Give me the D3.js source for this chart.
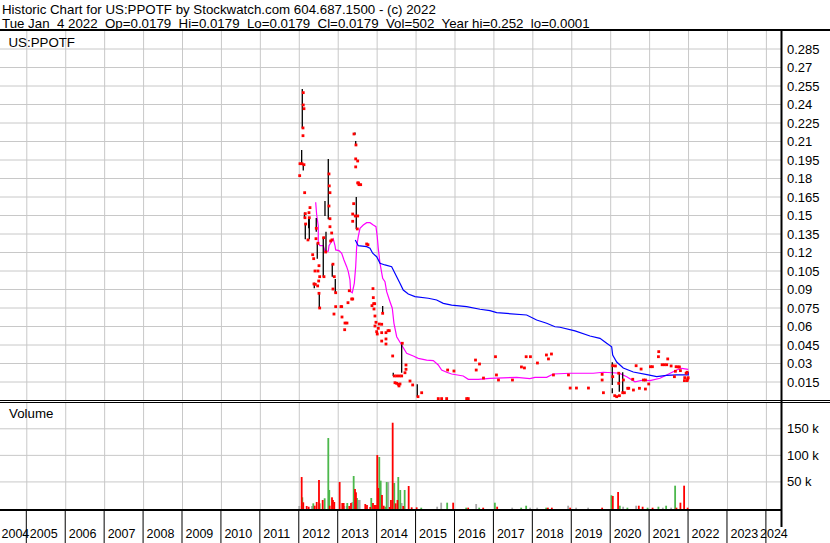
<!DOCTYPE html>
<html><head><meta charset="utf-8">
<script src="https://cdn.jsdelivr.net/npm/d3@7"></script>
<style>
body{margin:0;background:#fff}
svg{display:block}
text{font-family:"Liberation Sans",Arial,sans-serif;fill:#000}
</style>
</head><body>
<svg id="c" width="830" height="543"></svg>
<script>
const headerLines = [
  "Historic Chart for US:PPOTF by Stockwatch.com 604.687.1500 - (c) 2022",
  "Tue Jan  4 2022  Op=0.0179  Hi=0.0179  Lo=0.0179  Cl=0.0179  Vol=502  Year hi=0.252  lo=0.0001"
];
const symbolLabel = "US:PPOTF";
const volumeLabel = "Volume";
const yearTicks = [2004,2005,2006,2007,2008,2009,2010,2011,2012,2013,2014,2015,2016,2017,2018,2019,2020,2021,2022,2023,2024];
const yearLabels = ["2004","2005","2006","2007","2008","2009","2010","2011","2012","2013","2014","2015","2016","2017","2018","2019","2020","2021","2022","2023","2024"];
const priceTicks = [0.015,0.03,0.045,0.06,0.075,0.09,0.105,0.12,0.135,0.15,0.165,0.18,0.195,0.21,0.225,0.24,0.255,0.27,0.285];
const priceTickLabels = ["0.015","0.03","0.045","0.06","0.075","0.09","0.105","0.12","0.135","0.15","0.165","0.18","0.195","0.21","0.225","0.24","0.255","0.27","0.285"];
const volumeTicks = [50000,100000,150000];
const volumeTickLabels = ["50 k","100 k","150 k"];

// high-low ranges [year, low, high]
const rangeBars = [
  [2012.090,0.2203,0.2522],[2012.074,0.1914,0.2028],[2012.115,0.1860,0.1914],[2012.146,0.1476,0.1519],
  [2012.167,0.1303,0.1433],[2012.254,0.1392,0.1478],[2012.270,0.1303,0.1478],[2012.449,0.1365,0.1476],
  [2012.475,0.1146,0.1271],[2012.629,0.1000,0.1322],[2012.398,0.0906,0.0951],[2012.527,0.0746,0.0870],
  [2012.758,0.1466,0.1955],[2012.673,0.1492,0.1614],[2012.699,0.1195,0.1365],[2012.860,0.1000,0.1103],
  [2012.938,0.0870,0.0981],[2013.444,0.2150,0.2168],[2013.462,0.2066,0.2100],[2013.477,0.1387,0.1646],
  [2014.155,0.0703,0.0762],[2014.643,0.0221,0.0460],[2014.427,0.0195,0.0221],[2015.044,0.0027,0.0127],
  [2020.054,0.0122,0.0306],[2020.054,0.0054,0.0095],[2020.234,0.0067,0.0225],[2020.321,0.0054,0.0225]
];

// closing prices [year, price]
const closes = [
  [2012.115,0.2492],[2012.115,0.2392],[2012.133,0.2362],[2012.108,0.2206],[2012.108,0.2143],
  [2012.031,0.1916],[2012.082,0.1916],[2012.133,0.1908],[2012.023,0.1819],[2012.151,0.1681],
  [2012.167,0.1511],[2012.159,0.1478],[2012.177,0.1427],[2012.288,0.1560],[2012.262,0.1519],
  [2012.270,0.1478],[2012.236,0.1298],[2012.442,0.1308],[2012.449,0.1392],[2012.357,0.1178],
  [2012.383,0.1146],[2012.493,0.1271],[2012.416,0.1046],[2012.493,0.1046],[2012.640,0.1316],
  [2012.647,0.1000],[2012.519,0.1089],[2012.537,0.1000],[2012.511,0.0965],[2012.390,0.0941],
  [2012.424,0.0938],[2012.485,0.0925],[2012.537,0.0746],[2012.519,0.0865],[2012.776,0.1833],
  [2012.783,0.1736],[2012.801,0.1681],[2012.776,0.1573],[2012.801,0.1470],[2012.801,0.1405],
  [2012.845,0.1354],[2012.819,0.1289],[2012.853,0.1298],[2012.691,0.1200],[2012.878,0.1101],
  [2012.912,0.1000],[2012.878,0.0900],[2012.948,0.0870],[2012.948,0.0757],[2012.904,0.0697],
  [2013.084,0.0757],[2013.102,0.0757],[2013.110,0.0673],[2013.187,0.0624],[2013.238,0.0624],
  [2013.179,0.0570],
  [2013.418,0.2157],[2013.469,0.2068],[2013.462,0.1955],[2013.513,0.1938],[2013.462,0.1890],
  [2013.513,0.1760],[2013.534,0.1760],[2013.546,0.1746],[2013.590,0.1746],[2013.410,0.1592],
  [2013.385,0.1508],[2013.451,0.1492],[2013.513,0.1492],[2013.385,0.1449],[2013.503,0.1387],
  [2013.297,0.0886],[2013.359,0.0819],[2013.385,0.0819],[2013.264,0.0789],[2013.744,0.1265],
  [2013.777,0.1259],
  [2013.906,0.0903],[2013.914,0.0830],[2013.924,0.0781],[2013.950,0.0781],[2013.880,0.0765],
  [2013.932,0.0738],[2013.957,0.0681],[2013.983,0.0630],[2014.068,0.0616],[2014.130,0.0614],
  [2014.042,0.0581],[2013.957,0.0600],[2014.001,0.0554],[2014.016,0.0535],[2014.130,0.0546],
  [2014.240,0.0546],[2014.292,0.0562],[2014.325,0.0562],[2014.130,0.0478],[2014.240,0.0495],
  [2014.240,0.0454],[2014.155,0.0703],
  [2014.659,0.0460],[2014.412,0.0357],[2014.453,0.0195],[2014.515,0.0195],[2014.582,0.0195],
  [2014.643,0.0195],[2014.471,0.0140],[2014.515,0.0135],[2014.556,0.0127],[2014.600,0.0130],
  [2014.574,0.0114],[2014.728,0.0221],[2014.754,0.0284],[2014.754,0.0249],[2014.857,0.0154],
  [2014.926,0.0122],[2015.062,0.0027],[2015.157,0.0059],
  [2015.583,0.0001],[2015.670,0.0001],[2015.799,0.0001],[2016.313,0.0001],[2016.354,0.0001],
  [2015.824,0.0243],[2015.986,0.0235],
  [2016.540,0.0324],[2016.643,0.0292],[2016.558,0.0243],[2016.745,0.0178],[2017.053,0.0351],
  [2017.078,0.0203],[2017.130,0.0162],
  [2017.489,0.0162],[2017.720,0.0268],[2017.797,0.0260],[2017.841,0.0351],[2017.951,0.0351],
  [2018.131,0.0300],[2018.362,0.0365],[2018.414,0.0333],[2018.491,0.0373],[2018.542,0.0203],
  [2018.928,0.0203],[2018.972,0.0097],[2019.133,0.0097],[2019.441,0.0097],
  [2019.793,0.0208],[2019.793,0.0162],[2019.826,0.0059],[2020.065,0.0278],[2020.134,0.0276],
  [2020.065,0.0189],[2020.116,0.0035],[2020.167,0.0027],[2020.237,0.0035],[2020.219,0.0217],
  [2020.219,0.0135],[2020.322,0.0059],[2020.365,0.0059],[2020.340,0.0162],[2020.450,0.0095],
  [2020.476,0.0095],
  [2020.579,0.0168],[2020.597,0.0081],[2020.666,0.0278],[2020.794,0.0251],[2020.751,0.0095],
  [2020.854,0.0162],[2020.905,0.0162],[2020.905,0.0089],[2020.990,0.0130],[2021.033,0.0270],
  [2021.085,0.0270],[2021.247,0.0392],[2021.239,0.0351],[2021.334,0.0286],[2021.393,0.0286],
  [2021.452,0.0286],[2021.478,0.0333],[2021.565,0.0276],[2021.650,0.0189],[2021.675,0.0233],
  [2021.693,0.0270],[2021.745,0.0268],[2021.778,0.0268],[2021.804,0.0238],[2021.951,0.0217],
  [2021.915,0.0181],[2021.907,0.0157],[2021.992,0.0170],[2021.976,0.0157],[2021.976,0.0225],
  [2022.002,0.0181]
];

// short moving average (magenta)
const maShort = [
  [2012.434,0.1603],[2012.460,0.1500],[2012.501,0.1411],[2012.501,0.1271],[2012.544,0.1251],
  [2012.629,0.1251],[2012.673,0.1206],[2012.758,0.1206],[2012.776,0.1251],[2012.835,0.1281],
  [2012.886,0.1306],[2012.930,0.1251],[2012.948,0.1217],[2013.033,0.1211],[2013.102,0.1190],
  [2013.161,0.1135],[2013.230,0.1081],[2013.272,0.1041],[2013.315,0.0973],[2013.333,0.0878],
  [2013.374,0.0870],[2013.426,0.0946],[2013.462,0.1081],[2013.487,0.1243],[2013.528,0.1324],
  [2013.572,0.1392],[2013.657,0.1419],[2013.744,0.1438],[2013.829,0.1438],[2013.914,0.1419],
  [2013.983,0.1405],[2014.016,0.1324],[2014.042,0.1230],[2014.086,0.1109],[2014.155,0.0987],
  [2014.214,0.0959],[2014.258,0.0878],[2014.343,0.0797],[2014.402,0.0744],[2014.445,0.0622],
  [2014.515,0.0513],[2014.643,0.0446],[2014.771,0.0379],[2014.941,0.0357],[2015.069,0.0338],
  [2015.285,0.0324],[2015.455,0.0319],[2015.583,0.0284],[2015.670,0.0243],[2015.799,0.0225],
  [2015.927,0.0211],[2016.225,0.0195],[2016.354,0.0168],[2016.610,0.0168],[2016.911,0.0176],
  [2017.597,0.0184],[2017.938,0.0173],[2018.067,0.0184],[2018.367,0.0184],[2018.537,0.0211],
  [2018.966,0.0217],[2019.565,0.0217],[2019.822,0.0225],[2020.065,0.0221],[2020.237,0.0217],
  [2020.424,0.0189],[2020.637,0.0148],[2020.850,0.0162],[2021.022,0.0157],[2021.279,0.0176],
  [2021.451,0.0203],[2021.708,0.0243],[2021.836,0.0257],[2022.005,0.0249]
];

// long moving average (blue)
const maLong = [
  [2013.451,0.1298],[2013.528,0.1251],[2013.744,0.1243],[2013.829,0.1230],[2013.898,0.1190],
  [2014.001,0.1162],[2014.086,0.1109],[2014.214,0.1095],[2014.386,0.1081],[2014.515,0.1000],
  [2014.599,0.0946],[2014.684,0.0892],[2014.813,0.0860],[2014.985,0.0838],[2015.327,0.0825],
  [2015.542,0.0811],[2015.712,0.0784],[2015.927,0.0770],[2016.313,0.0757],[2016.655,0.0736],
  [2016.911,0.0724],[2017.084,0.0708],[2017.854,0.0689],[2018.111,0.0649],[2018.368,0.0622],
  [2018.582,0.0594],[2018.710,0.0590],[2019.096,0.0560],[2019.481,0.0519],[2019.738,0.0500],
  [2019.910,0.0460],[2020.038,0.0432],[2020.064,0.0365],[2020.167,0.0308],[2020.336,0.0260],
  [2020.593,0.0227],[2020.978,0.0203],[2021.194,0.0189],[2021.451,0.0199],[2021.708,0.0203],
  [2022.006,0.0203],[2022.006,0.0227]
];

// volume [year, shares]
const volUp = [
  [2012.090,20100],[2012.373,8800],[2012.537,8800],[2012.665,18300],[2012.758,131700],[2012.783,33900],
  [2013.246,9400],[2013.410,60200],[2013.495,18800],[2013.862,18800],[2014.068,96000],[2014.104,51400],
  [2014.222,2400],[2014.258,48900],[2014.453,47000],[2014.556,58300],[2014.607,33900],[2014.720,33900],
  [2015.146,600],[2015.812,10000],[2016.300,600],[2016.634,600],[2017.037,10000],[2017.713,600],
  [2017.841,4300],[2018.355,600],[2020.031,23900],[2020.247,4300],[2020.442,600],[2020.961,600],
  [2021.239,2400],[2021.437,4300],[2021.668,42000]
];
const volDown = [
  [2012.074,58300],[2012.115,10700],[2012.203,3800],[2012.254,2400],[2012.409,4300],[2012.460,11300],
  [2012.519,52700],[2012.614,15100],[2012.794,4300],[2012.853,20100],[2012.878,15100],[2012.912,11300],
  [2013.050,48900],[2013.117,9400],[2013.153,9400],[2013.297,3800],[2013.341,9400],[2013.444,35800],
  [2013.469,29500],[2013.708,7500],[2013.752,5600],[2013.836,1900],[2013.906,9400],[2013.950,5600],
  [2013.983,5600],[2014.016,99700],[2014.042,37600],[2014.137,24500],[2014.181,4300],[2014.335,1900],
  [2014.368,15100],[2014.412,160500],[2014.489,8800],[2014.536,15100],[2014.684,3800],[2014.823,41400],
  [2014.900,1300],[2015.028,1300],[2015.966,10000],[2016.351,600],[2016.737,600],[2017.096,2400],
  [2018.399,600],[2018.501,600],[2018.971,600],[2019.793,600],[2020.067,22600],[2020.203,30100],
  [2020.735,4300],[2020.833,2400],[2021.089,600],[2021.702,600],[2021.804,10000],[2021.899,42000],
  [2021.989,600]
];
const volFlat = [
  [2012.013,3800],[2012.339,3800],[2013.161,3800],[2013.230,3800],[2013.374,11300],[2013.528,15100],
  [2013.564,15100],[2014.299,48900],[2014.643,9400],[2015.555,2400],[2015.658,10000],[2016.557,7500],
  [2017.482,600],[2017.944,600],[2018.124,600],[2018.920,4300],[2019.125,600],[2019.433,600],
  [2020.332,2400],[2020.666,4300],[2021.352,600],[2021.565,600]
];

// ---------- drawing ----------
const W = 830, H = 543;
const frameR = 781;
const pTop = 31, pBot = 400;
const vTop = 402, vBot = 509.5;
const aBot = 543;

const svg = d3.select("#c");
svg.append("rect").attr("width", W).attr("height", H).attr("fill", "#fff");

const x = d3.scaleLinear().domain([2005, 2024]).range([26.3, 765.9]);
const yP = d3.scaleLinear().domain([0, 0.285]).range([400, 48.5]);
const yV = d3.scaleLinear().domain([0, 150000]).range([508, 428.3]);

// header
svg.selectAll("text.hdr").data(headerLines).join("text")
  .attr("class", "hdr").attr("x", 2).attr("y", (d, i) => 13.5 + i * 14.5)
  .style("white-space", "pre").style("font-size", "13.3px").text(d => d);

// price panel grid
const gPx = svg.append("g").attr("transform", `translate(0,${pBot})`)
  .call(d3.axisBottom(x).tickValues(yearTicks.filter(d => d >= 2005)).tickSize(-(pBot - pTop)).tickFormat(""));
gPx.select(".domain").remove();
gPx.selectAll("line").attr("stroke", "#c8c8c8");

const gPy = svg.append("g").attr("transform", `translate(${frameR},0)`)
  .call(d3.axisRight(yP).tickValues(priceTicks).tickSize(-frameR).tickPadding(6)
    .tickFormat((d, i) => priceTickLabels[i]));
gPy.select(".domain").remove();
gPy.selectAll("line").attr("stroke", "#c8c8c8");
gPy.attr("font-family", null).attr("font-size", null);
gPy.selectAll("text").style("font-size", "13px").attr("dy", "0.35em");

// volume panel grid
const gVx = svg.append("g").attr("transform", `translate(0,${vBot})`)
  .call(d3.axisBottom(x).tickValues(yearTicks.filter(d => d >= 2005)).tickSize(-(vBot - vTop)).tickFormat(""));
gVx.select(".domain").remove();
gVx.selectAll("line").attr("stroke", "#c8c8c8");

const gVy = svg.append("g").attr("transform", `translate(${frameR},0)`)
  .call(d3.axisRight(yV).tickValues(volumeTicks).tickSize(-frameR).tickPadding(6)
    .tickFormat((d, i) => volumeTickLabels[i]));
gVy.select(".domain").remove();
gVy.selectAll("line").attr("stroke", "#c8c8c8");
gVy.attr("font-family", null).attr("font-size", null);
gVy.selectAll("text").style("font-size", "13px").attr("dy", "0.35em");

// moving averages
const line = d3.line().x(d => x(d[0])).y(d => yP(d[1]));
svg.append("path").datum(maShort).attr("d", line).attr("fill", "none").attr("stroke", "#ff00ff").attr("stroke-width", 1.2);
svg.append("path").datum(maLong).attr("d", line).attr("fill", "none").attr("stroke", "#0000ff").attr("stroke-width", 1.2);

// high-low bars
svg.append("g").selectAll("line").data(rangeBars).join("line")
  .attr("x1", d => x(d[0])).attr("x2", d => x(d[0]))
  .attr("y1", d => yP(d[2])).attr("y2", d => yP(d[1]))
  .attr("stroke", "#000").attr("stroke-width", 1.3);

// closes
const ds = 2.8;
svg.append("g").selectAll("rect").data(closes).join("rect")
  .attr("x", d => x(d[0]) - ds / 2).attr("y", d => Math.min(yP(d[1]) - ds / 2, pBot - ds))
  .attr("width", ds).attr("height", ds).attr("fill", "#ff0000");

// volume bars
const bw = 1.8;
function volBars(data, color) {
  svg.append("g").selectAll("rect").data(data).join("rect")
    .attr("x", d => x(d[0]) - bw / 2).attr("y", d => yV(d[1]))
    .attr("width", bw).attr("height", d => vBot - yV(d[1]))
    .attr("fill", color);
}
volBars(volFlat, "#a8a8a8");
volBars(volUp, "#4cb84c");
volBars(volDown, "#ff0000");

// labels
svg.append("text").attr("x", 8.5).attr("y", 46.5).style("font-size", "13.3px").text(symbolLabel);
svg.append("text").attr("x", 9).attr("y", 418).style("font-size", "13.3px").text(volumeLabel);

// x axis panel
const gA = svg.append("g");
gA.selectAll("line").data(yearTicks.filter(d => d >= 2005)).join("line")
  .attr("x1", d => x(d)).attr("x2", d => x(d)).attr("y1", vBot).attr("y2", aBot)
  .attr("stroke", "#000").attr("stroke-width", 1);
gA.selectAll("text").data(yearTicks).join("text")
  .attr("x", (d, i) => Math.max(1.5, Math.min(x(d) + 3.5, 760)))
  .attr("y", 538).style("font-size", "12.5px").text((d, i) => yearLabels[i]);

// frame
const frame = svg.append("g").attr("stroke", "#000").attr("fill", "none");
frame.append("line").attr("x1", 0).attr("x2", W).attr("y1", 30).attr("y2", 30).attr("stroke-width", 2);
frame.append("line").attr("x1", frameR + 0.5).attr("x2", frameR + 0.5).attr("y1", 29).attr("y2", 527).attr("stroke-width", 2);
frame.append("line").attr("x1", 0).attr("x2", W).attr("y1", 400.5).attr("y2", 400.5).attr("stroke-width", 1.2);
frame.append("line").attr("x1", 0).attr("x2", W).attr("y1", 402.5).attr("y2", 402.5).attr("stroke-width", 1.2);
frame.append("line").attr("x1", 0).attr("x2", frameR).attr("y1", vBot + 0.5).attr("y2", vBot + 0.5).attr("stroke-width", 2);
</script>
</body></html>
